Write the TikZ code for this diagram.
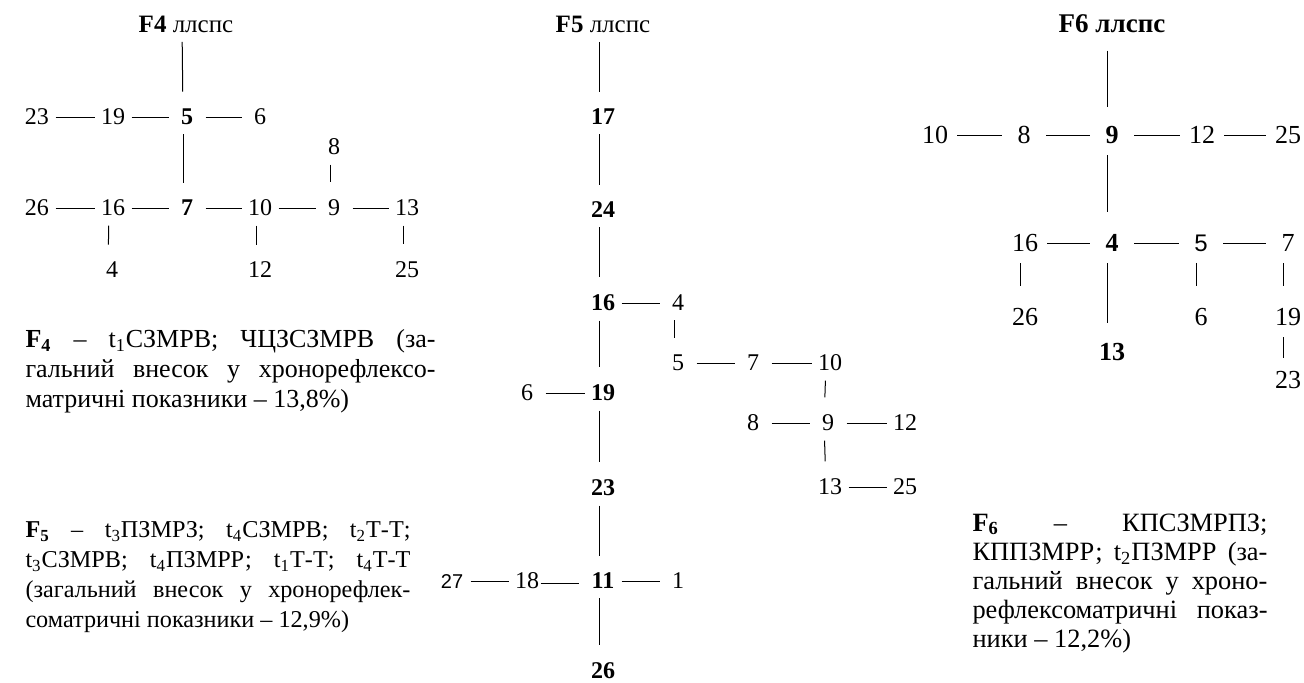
\documentclass[tikz,border=0pt]{standalone}
\usepackage{fontspec}
\setmainfont{Liberation Serif}
\newfontfamily\arialfont{Liberation Sans}

\begin{document}
\begin{tikzpicture}[x=0.5pt,y=-0.5pt,line width=0.5pt,
    num/.style={inner sep=0pt,minimum width=12pt,font=\fontsize{12}{15}\selectfont},
    bnum/.style={num,font=\fontsize{12}{15}\selectfont\bfseries},
    snum/.style={num,font=\fontsize{10}{12}\selectfont\arialfont},
    lnum/.style={inner sep=0pt,minimum width=13pt,font=\fontsize{13}{16}\selectfont},
    lbnum/.style={lnum,font=\fontsize{13}{16}\selectfont\bfseries},
    ttl/.style={inner sep=0pt,font=\fontsize{12.5}{15}\selectfont},
    capbox/.style={inner sep=0pt,anchor=north west,align=left},
    hl/.style={shorten <=3pt,shorten >=3pt},
    vl/.style={shorten <=4.5pt,shorten >=8.5pt,transform canvas={xshift=-2pt}},
    lhl/.style={shorten <=4.25pt,shorten >=4.25pt},
    lvl/.style={shorten <=5.5pt,shorten >=11pt,transform canvas={xshift=-2.5pt}}]
  \useasboundingbox (0,0) rectangle (1304,682);

  % F4
  \node[ttl] (t4) at (186,24) {\textbf{F4} ллспс};
  \node[num] (a23) at (37,117) {23};
  \node[num] (a19) at (113,117) {19};
  \node[bnum] (a5) at (187,117) {5};
  \node[num] (a6) at (260,117) {6};
  \node[num] (a8) at (334,147) {8};
  \node[num] (a26) at (37,208) {26};
  \node[num] (a16) at (113,208) {16};
  \node[bnum] (a7) at (187,208) {7};
  \node[num] (a10) at (260,208) {10};
  \node[num] (a9) at (334,208) {9};
  \node[num] (a13) at (407,208) {13};
  \node[num] (a4) at (112,270) {4};
  \node[num] (a12) at (260,270) {12};
  \node[num] (a25) at (407,270) {25};
  \draw[vl] (t4) -- (a5);
  \draw[vl] (a5) -- (a7);
  \draw[vl] (a8) -- (a9);
  \draw[vl] (a16) -- (a4);
  \draw[vl] (a10) -- (a12);
  \draw[vl] (a13) -- (a25);
  \draw[hl] (a23) -- (a19);
  \draw[hl] (a19) -- (a5);
  \draw[hl] (a5) -- (a6);
  \draw[hl] (a26) -- (a16);
  \draw[hl] (a16) -- (a7);
  \draw[hl] (a7) -- (a10);
  \draw[hl] (a10) -- (a9);
  \draw[hl] (a9) -- (a13);
  \node[capbox,font=\fontsize{13}{15}\selectfont] (capf4) at (25,329) {%
    \makebox[205pt][s]{\textbf{F\textsubscript{4}} -- t\textsubscript{1}СЗМРВ; ЧЦЗСЗМРВ (за-}\\
    \makebox[205pt][s]{гальний внесок у хронорефлексо-}\\
    матричні показники -- 13,8\%)};

  % F5
  \node[ttl] (t5) at (603,24) {\textbf{F5} ллспс};
  \node[bnum] (b17) at (603,117) {17};
  \node[bnum] (b24) at (603,210) {24};
  \node[bnum] (b16) at (603,303) {16};
  \node[num] (b4) at (678,303) {4};
  \node[num] (b5) at (678,363) {5};
  \node[num] (b7) at (753,363) {7};
  \node[num] (b10) at (830,363) {10};
  \node[num] (b6) at (527,393) {6};
  \node[bnum] (b19) at (603,393) {19};
  \node[num] (b8) at (753,423) {8};
  \node[num] (b9) at (828,423) {9};
  \node[num] (b12) at (905,423) {12};
  \node[bnum] (b23) at (603,488) {23};
  \node[num] (b13) at (830,487) {13};
  \node[num] (b25) at (905,487) {25};
  \node[snum] (b27) at (452,581) {27};
  \node[num] (b18) at (527,581) {18};
  \node[bnum] (b11) at (603,581) {11};
  \node[num] (b1) at (678,581) {1};
  \node[bnum] (b26) at (603,671) {26};
  \draw[vl] (t5) -- (b17);
  \draw[vl] (b17) -- (b24);
  \draw[vl] (b24) -- (b16);
  \draw[vl] (b16) -- (b19);
  \draw[vl] (b19) -- (b23);
  \draw[vl] (b23) -- (b11);
  \draw[vl] (b11) -- (b26);
  \draw[vl] (b4) -- (b5);
  \draw[vl] (b10) -- (b9);
  \draw[vl] (b9) -- (b13);
  \draw[hl] (b16) -- (b4);
  \draw[hl] (b5) -- (b7);
  \draw[hl] (b7) -- (b10);
  \draw[hl] (b6) -- (b19);
  \draw[hl] (b8) -- (b9);
  \draw[hl] (b9) -- (b12);
  \draw[hl] (b13) -- (b25);
  \draw[hl] (b27) -- (b18);
  \draw[shorten <=0.5pt,shorten >=6pt,transform canvas={yshift=-1pt}] (b18) -- (b11);
  \draw[hl] (b11) -- (b1);
  \node[capbox,font=\fontsize{12.1}{15}\selectfont] (capf5) at (25,521) {%
    \makebox[192.5pt][s]{\textbf{F\textsubscript{5}} -- t\textsubscript{3}ПЗМРЗ; t\textsubscript{4}СЗМРВ; t\textsubscript{2}Т-Т;}\\
    \makebox[192.5pt][s]{t\textsubscript{3}СЗМРВ; t\textsubscript{4}ПЗМРР; t\textsubscript{1}Т-Т; t\textsubscript{4}Т-Т}\\
    \makebox[192.5pt][s]{(загальний внесок у хронорефлек-}\\
    соматричні показники -- 12,9\%)};

  % F6
  \node[ttl,font=\fontsize{13.5}{16}\selectfont\bfseries] (t6) at (1112,24) {F6 ллспс};
  \node[lnum] (c10) at (935,135) {10};
  \node[lnum] (c8) at (1024,135) {8};
  \node[lbnum] (c9) at (1112,135) {9};
  \node[lnum] (c12) at (1202,135) {12};
  \node[lnum] (c25) at (1288,135) {25};
  \node[lnum] (c16) at (1025,243) {16};
  \node[lbnum] (c4) at (1112,243) {4};
  \node[lnum,font=\fontsize{12}{15}\selectfont\arialfont] (c5) at (1201,243) {5};
  \node[lnum] (c7) at (1288,243) {7};
  \node[lnum] (c26) at (1025,317) {26};
  \node[lnum] (c6) at (1201,317) {6};
  \node[lnum] (c19) at (1288,317) {19};
  \node[lbnum] (c13) at (1112,352) {13};
  \node[lnum] (c23) at (1288,380) {23};
  \draw[lvl,shorten <=8.5pt,shorten >=9.5pt] (t6) -- (c9);
  \draw[lvl] (c9) -- (c4);
  \draw[lvl,shorten >=10pt] (c4) -- (c13);
  \draw[lvl] (c16) -- (c26);
  \draw[lvl] (c5) -- (c6);
  \draw[lvl] (c7) -- (c19);
  \draw[lvl,shorten >=6.5pt] (c19) -- (c23);
  \draw[lhl] (c10) -- (c8);
  \draw[lhl] (c8) -- (c9);
  \draw[lhl] (c9) -- (c12);
  \draw[lhl] (c12) -- (c25);
  \draw[lhl] (c16) -- (c4);
  \draw[lhl] (c4) -- (c5);
  \draw[lhl] (c5) -- (c7);
  \node[capbox,font=\fontsize{13.2}{14.6}\selectfont] (capf6) at (972,513) {%
    \makebox[147.5pt][s]{\textbf{F\textsubscript{6}} -- КПСЗМРПЗ;}\\
    \makebox[147.5pt][s]{КППЗМРР; t\textsubscript{2}ПЗМРР (за-}\\
    \makebox[147.5pt][s]{гальний внесок у хроно-}\\
    \makebox[147.5pt][s]{рефлексоматричні показ-}\\
    ники -- 12,2\%)};
\end{tikzpicture}
\end{document}
